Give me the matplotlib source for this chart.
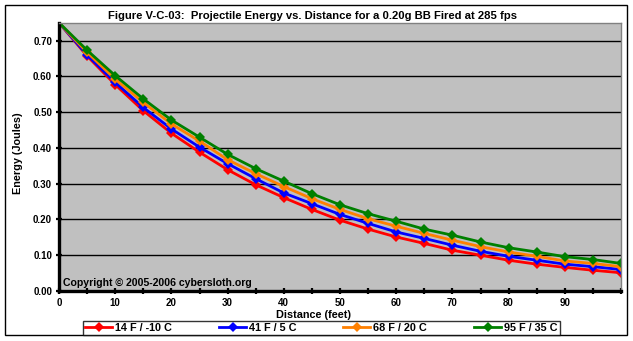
import numpy as np
import matplotlib
matplotlib.use("Agg")
import matplotlib.pyplot as plt
from matplotlib.patches import Rectangle

plt.rcParams['font.family'] = ['Liberation Sans', 'DejaVu Sans']
plt.rcParams['font.weight'] = 'bold'

# range in feet, energies in joules for each air temperature
distance = [0, 5, 10, 15, 20, 25, 30, 35, 40, 45, 50,
            55, 60, 65, 70, 75, 80, 85, 90, 95, 100]
energy_14F = [0.750, 0.657, 0.577, 0.504, 0.441, 0.388, 0.339, 0.297, 0.261, 0.228, 0.198,
              0.173, 0.151, 0.133, 0.114, 0.100, 0.086, 0.075, 0.066, 0.058, 0.051]
energy_41F = [0.750, 0.660, 0.583, 0.513, 0.453, 0.402, 0.356, 0.314, 0.274, 0.244, 0.214,
              0.189, 0.165, 0.147, 0.128, 0.111, 0.097, 0.086, 0.075, 0.068, 0.060]
energy_68F = [0.750, 0.667, 0.592, 0.527, 0.467, 0.419, 0.367, 0.328, 0.292, 0.258, 0.228,
              0.202, 0.181, 0.161, 0.142, 0.124, 0.109, 0.097, 0.084, 0.077, 0.068]
energy_95F = [0.750, 0.673, 0.602, 0.537, 0.478, 0.430, 0.382, 0.342, 0.307, 0.272, 0.241,
              0.216, 0.195, 0.173, 0.156, 0.137, 0.121, 0.109, 0.096, 0.088, 0.077]

series = [
    ("14 F / -10 C", energy_14F, "#FF0000"),
    ("41 F / 5 C", energy_41F, "#0000FF"),
    ("68 F / 20 C", energy_68F, "#FF8000"),
    ("95 F / 35 C", energy_95F, "#008000"),
]

W, H = 633, 341
fig = plt.figure(figsize=(W / 100, H / 100), dpi=100)
fig.patch.set_facecolor("white")

# outer chart frame
fig.patches.append(Rectangle((5 / W, 1 - 335 / H), 622 / W, 330 / H,
                             transform=fig.transFigure, fill=False,
                             edgecolor="black", linewidth=1.0))

ax = fig.add_axes([59 / W, 50 / H, 562 / W, 268.3 / H])
ax.set_facecolor("#C0C0C0")

for label, vals, col in series:
    ax.plot(distance, vals, color=col, linewidth=2.0, marker="D",
            markersize=4.6, markeredgewidth=0, label=label)

ax.set_xlim(0, 100)
ax.set_ylim(0, 0.75)
ax.set_yticks(np.arange(0, 0.71, 0.1))
ax.set_yticklabels(["%.2f" % v for v in np.arange(0, 0.71, 0.1)])
ax.set_xticks(np.arange(0, 101, 10))
ax.set_xticklabels([str(v) for v in range(0, 100, 10)] + [""])
ax.set_xticks(np.arange(5, 100, 10), minor=True)

for y in np.arange(0.1, 0.71, 0.1):
    ax.axhline(y, color="black", linewidth=1.0, zorder=1)

for s in ["left", "bottom"]:
    ax.spines[s].set_linewidth(2.4)
    ax.spines[s].set_color("black")
for s in ["top", "right"]:
    ax.spines[s].set_linewidth(1.0)
    ax.spines[s].set_color("#808080")

ax.tick_params(which="both", direction="inout", length=4, width=1.6,
               labelsize=7, pad=3)

ax.text(0.008, 0.012, "Copyright \u00a9 2005-2006 cybersloth.org",
        transform=ax.transAxes, fontsize=7.6, fontweight="bold", va="bottom")

fig.text(313 / W, 1 - 16 / H,
         "Figure V-C-03:  Projectile Energy vs. Distance for a 0.20g BB Fired at 285 fps",
         ha="center", va="center", fontsize=8.1, fontweight="bold")
fig.text(314 / W, 1 - 315 / H, "Distance (feet)", ha="center", va="center",
         fontsize=7.8, fontweight="bold")
fig.text(18 / W, 1 - 153 / H, "Energy (Joules)", ha="center", va="center",
         rotation=90, fontsize=7.8, fontweight="bold")

leg = fig.legend(loc="lower left", ncol=4,
                 bbox_to_anchor=(83 / W, 1 - 335 / H),
                 bbox_transform=fig.transFigure,
                 fontsize=7.8, frameon=True, fancybox=False, numpoints=1,
                 handlelength=2.5, handletextpad=0.25, borderpad=0.2,
                 borderaxespad=0, columnspacing=4.35)
leg.get_frame().set_edgecolor("black")
leg.get_frame().set_linewidth(1.0)

fig.savefig("out.png", dpi=100)
